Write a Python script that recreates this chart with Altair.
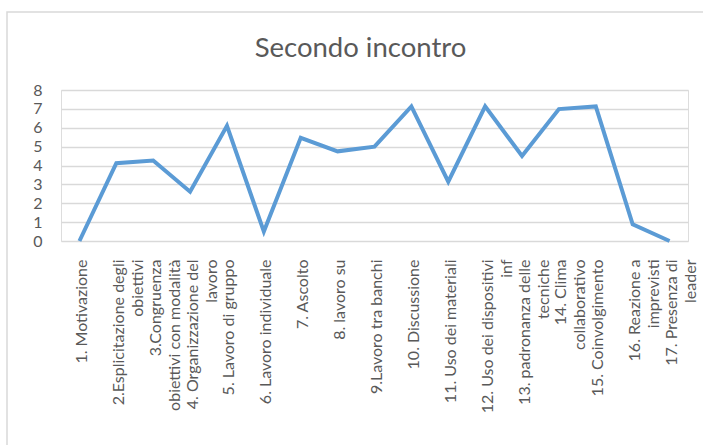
import altair as alt
import pandas as pd

line1 = [
    "1. Motivazione", "2.Esplicitazione degli", "3.Congruenza", "4. Organizzazione del",
    "5. Lavoro di gruppo", "6. Lavoro individuale", "7. Ascolto", "8. lavoro su",
    "9.Lavoro tra banchi", "10. Discussione", "11. Uso dei materiali",
    "12. Uso dei dispositivi", "13. padronanza delle", "14. Clima",
    "15. Coinvolgimento", "16. Reazione a", "17. Presenza di",
]
line2 = [
    "", "obiettivi", "obiettivi con modalità", "lavoro", "", "", "", "", "", "", "",
    "inf", "tecniche", "collaborativo", "", "imprevisti", "leader",
]
values = [0, 4.12, 4.26, 2.61, 6.1, 0.5, 5.47, 4.75, 5.0, 7.13, 3.14, 7.13, 4.5, 6.99, 7.13, 0.88, 0]

cats = [a + ("|" + b if b else "") for a, b in zip(line1, line2)]
df = pd.DataFrame({"cat": cats, "val": values})

FONT = "Lato"
GREY = "#595959"

line = alt.Chart(df).mark_line(color="#5b9bd5", strokeWidth=4, strokeJoin="miter").encode(
    x=alt.X("cat:N", sort=cats, title=None,
            axis=alt.Axis(labelAngle=-90, labelAlign="right", labelBaseline="middle",
                          labelPadding=18, labelFontSize=16, labelColor=GREY, labelFont=FONT,
                          labelLimit=400, labelLineHeight=19, labelOffset=2,
                          labelExpr="split(datum.label, '|')",
                          domain=False, ticks=False, grid=False)),
    y=alt.Y("val:Q", title=None, scale=alt.Scale(domain=[0, 8], nice=False),
            axis=alt.Axis(values=[0, 1, 2, 3, 4, 5, 6, 7, 8], labelFontSize=16, labelColor=GREY,
                          labelFont=FONT, labelPadding=19, domain=False, ticks=False,
                          gridColor="#d9d9d9", gridWidth=1.5)),
)

frame = alt.Chart(pd.DataFrame({"f": [0]})).mark_rect(
    fill=None, stroke="#d9d9d9", strokeWidth=1.5
).encode(
    x=alt.value(-54), x2=alt.value(800), y=alt.value(-78), y2=alt.value(500)
)

chart = alt.layer(frame, line).properties(
    width=627, height=151,
    autosize=alt.AutoSizeParams(type="none"),
    padding={"left": 61, "top": 90, "right": 15, "bottom": 204},
    title=alt.TitleParams("Secondo incontro", font=FONT, fontSize=27.5, fontWeight="normal",
                          color=GREY, anchor="middle", frame="group", baseline="alphabetic",
                          offset=-73, dx=-14),
).configure_view(stroke=None).configure(background="white")

chart.save("out.html", embed_options={"renderer": "svg", "actions": False})
